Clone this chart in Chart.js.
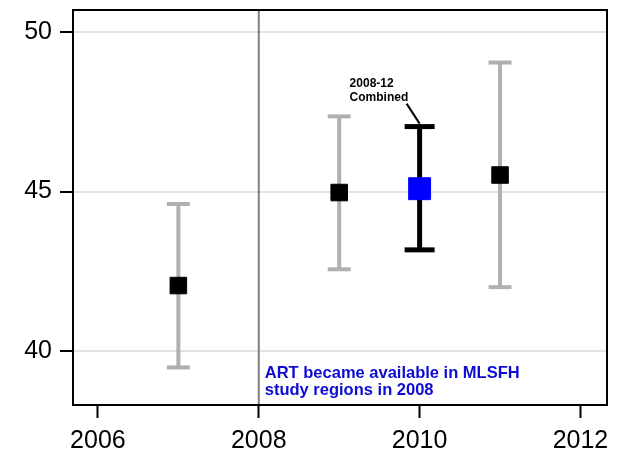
<!doctype html>
<html>
<head>
  <meta charset="utf-8" />
  <title>MLSFH estimates by year</title>
  <script src="https://cdn.jsdelivr.net/npm/chart.js"></script>
  <style>
    body { margin: 0; background: #fff; }
    canvas { display: block; }
  </style>
</head>
<body>
  <canvas id="chart" width="621" height="452"></canvas>

  <script>
    // values
    const years = [2007, 2009, 2011];
    const estimates = [42.05, 44.97, 45.52];
    const lower = [39.48, 42.56, 42.0];
    const upper = [44.61, 47.36, 49.05];

    const combinedYear = 2010;
    const combinedEstimate = 45.09;
    const combinedLower = 43.17;
    const combinedUpper = 47.04;

    const xTicks = [2006, 2008, 2010, 2012];
    const yTicks = [40, 45, 50];
    const artYear = 2008;

    const FONT = "Liberation Sans, Arial, sans-serif";
    const GREY_BAR = "#b0b0b0";

    const errorBars = years.map((yr, i) => ({
      data: [{ x: yr, y: lower[i] }, { x: yr, y: upper[i] }],
      showLine: true,
      borderColor: GREY_BAR,
      borderWidth: 4,
      pointStyle: "line",
      pointRadius: 11.5,
      pointBorderWidth: 4,
      pointBorderColor: GREY_BAR,
      order: 2
    }));

    const datasets = [
      ...errorBars,
      {
        data: [{ x: combinedYear, y: combinedLower }, { x: combinedYear, y: combinedUpper }],
        showLine: true,
        borderColor: "#000",
        borderWidth: 5,
        pointStyle: "line",
        pointRadius: 15,
        pointBorderWidth: 5,
        pointBorderColor: "#000",
        order: 1
      },
      {
        data: years.map((yr, i) => ({ x: yr, y: estimates[i] })),
        pointStyle: "rect",
        pointRadius: 11.7,
        backgroundColor: "#000",
        borderColor: "#000",
        borderWidth: 1,
        order: 0
      },
      {
        data: [{ x: combinedYear, y: combinedEstimate }],
        pointStyle: "rect",
        pointRadius: 15.5,
        backgroundColor: "#0000ff",
        borderColor: "#0000ff",
        borderWidth: 1,
        order: 0
      }
    ];

    const extras = {
      id: "extras",
      beforeDatasetsDraw(chart) {
        const { ctx, chartArea: a, scales: { x } } = chart;
        const px = x.getPixelForValue(artYear);
        ctx.save();
        ctx.strokeStyle = "#808080";
        ctx.lineWidth = 2;
        ctx.beginPath();
        ctx.moveTo(px, a.top);
        ctx.lineTo(px, a.bottom);
        ctx.stroke();
        ctx.restore();
      },
      afterDraw(chart) {
        const { ctx, chartArea: a, scales: { x, y } } = chart;
        ctx.save();
        // frame
        ctx.strokeStyle = "#000";
        ctx.lineWidth = 2;
        ctx.strokeRect(a.left, a.top, a.right - a.left, a.bottom - a.top);

        // combined label + leader
        const cx = x.getPixelForValue(combinedYear);
        const cy = y.getPixelForValue(combinedUpper);
        ctx.fillStyle = "#000";
        ctx.font = "bold 12px " + FONT;
        ctx.textAlign = "left";
        ctx.textBaseline = "alphabetic";
        ctx.fillText("2008-12", cx - 70, cy - 40);
        ctx.fillText("Combined", cx - 70, cy - 26);
        ctx.lineWidth = 2;
        ctx.beginPath();
        ctx.moveTo(cx - 13, cy - 23);
        ctx.lineTo(cx, cy - 3);
        ctx.stroke();

        // ART note
        const ax = x.getPixelForValue(artYear);
        ctx.fillStyle = "#0c0cd2";
        ctx.font = "bold 16.5px " + FONT;
        ctx.fillText("ART became available in MLSFH", ax + 6, a.bottom - 27);
        ctx.fillText("study regions in 2008", ax + 6, a.bottom - 10);
        ctx.restore();
      }
    };

    new Chart(document.getElementById("chart"), {
      type: "scatter",
      data: { datasets },
      options: {
        responsive: false,
        animation: false,
        layout: { autoPadding: false, padding: { top: 10, right: 14, left: 0, bottom: 0 } },
        plugins: { legend: { display: false }, tooltip: { enabled: false } },
        scales: {
          x: {
            type: "linear",
            min: 2005.69,
            max: 2012.33,
            afterBuildTicks: s => { s.ticks = xTicks.map(v => ({ value: v })); },
            afterFit: s => { s.height = 47; s.paddingLeft = 0; s.paddingRight = 0; },
            ticks: {
              color: "#000",
              font: { family: FONT, size: 25 },
              padding: 8,
              maxRotation: 0,
              autoSkip: false,
              callback: v => String(v)
            },
            grid: { drawOnChartArea: false, drawTicks: true, tickLength: 13, tickColor: "#000", tickWidth: 2 },
            border: { display: true, color: "#000", width: 2 }
          },
          y: {
            min: 38.3,
            max: 50.7,
            afterBuildTicks: s => { s.ticks = yTicks.map(v => ({ value: v })); },
            afterFit: s => { s.width = 73; s.paddingTop = 0; s.paddingBottom = 0; },
            ticks: {
              color: "#000",
              font: { family: FONT, size: 25 },
              padding: 8,
              autoSkip: false,
              callback: v => String(v)
            },
            grid: { color: "#e3e3e3", lineWidth: 2, drawTicks: true, tickLength: 13, tickColor: "#000", tickWidth: 2 },
            border: { display: true, color: "#000", width: 2 }
          }
        }
      },
      plugins: [extras]
    });
  </script>
</body>
</html>
